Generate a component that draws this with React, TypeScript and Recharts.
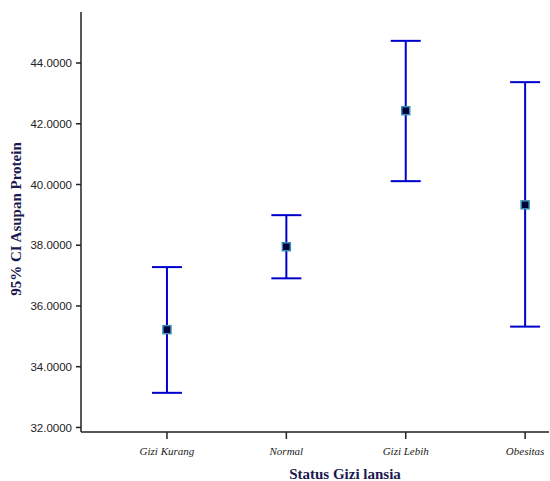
import React from 'react';
import { ComposedChart, Scatter, ErrorBar, XAxis, YAxis, Label } from 'recharts';

// 95% CI of protein intake per nutrition status group

const categories = ['Gizi Kurang', 'Normal', 'Gizi Lebih', 'Obesitas'];
const means = [35.22, 37.95, 42.43, 39.33];
const lowers = [33.14, 36.91, 40.11, 35.32];
const uppers = [37.28, 38.99, 44.73, 43.37];
const yTicks = [32, 34, 36, 38, 40, 42, 44];

const data = categories.map((name, i) => ({
  x: i + 1,
  name,
  mean: means[i],
  err: [means[i] - lowers[i], uppers[i] - means[i]],
}));

const AXIS = '#222';
const TITLE = '#1a1a50';
const SERIF = "'Liberation Serif', 'Times New Roman', serif";

const SquareDot = (props: any) => {
  const { cx, cy } = props;
  if (cx == null || cy == null) return null;
  return (
    <rect
      x={cx - 4}
      y={cy - 4}
      width={8}
      height={8}
      fill="#00003c"
      stroke="#3d8fb5"
      strokeWidth={1.5}
    />
  );
};

const YTitle = (props: any) => {
  const { viewBox } = props;
  const cx = 16;
  const cy = viewBox.y + viewBox.height / 2 - 3;
  return (
    <text
      x={cx}
      y={cy}
      transform={`rotate(-90, ${cx}, ${cy})`}
      textAnchor="middle"
      dominantBaseline="central"
      fontFamily={SERIF}
      fontWeight="bold"
      fontSize={15}
      fill={TITLE}
    >
      95% CI Asupan Protein
    </text>
  );
};

const XTitle = () => (
  <text
    x={345}
    y={474}
    textAnchor="middle"
    dominantBaseline="central"
    fontFamily={SERIF}
    fontWeight="bold"
    fontSize={15}
    fill={TITLE}
  >
    Status Gizi lansia
  </text>
);

const App: React.FC = () => {
  return (
    <div style={{ position: 'absolute', left: 0, top: 0, width: 550, height: 481, background: '#fff' }}>
      <ComposedChart
        width={550}
        height={481}
        data={data}
        margin={{ top: 12, right: 1, bottom: 0, left: 0 }}
      >
        <XAxis
          type="number"
          dataKey="x"
          domain={[0.28, 4.2]}
          ticks={[1, 2, 3, 4]}
          allowDataOverflow
          tickFormatter={(v: number) => categories[v - 1] ?? ''}
          height={49}
          tickSize={7}
          tickMargin={8}
          axisLine={{ stroke: AXIS, strokeWidth: 1.5 }}
          tickLine={{ stroke: AXIS, strokeWidth: 1.5 }}
          tick={{
            fill: '#222',
            fontSize: 11,
            fontStyle: 'italic',
            fontFamily: SERIF,
          }}
        >
          <Label content={<XTitle />} />
        </XAxis>
        <YAxis
          type="number"
          domain={[31.85, 45.68]}
          ticks={yTicks}
          allowDataOverflow
          width={81}
          tickSize={5}
          tickMargin={4}
          tickFormatter={(v: number) => v.toFixed(4)}
          axisLine={{ stroke: AXIS, strokeWidth: 1.5 }}
          tickLine={{ stroke: AXIS, strokeWidth: 1.5 }}
          tick={{
            fill: '#222',
            fontSize: 11.5,
            fontFamily: "'Liberation Sans', Arial, sans-serif",
          }}
        >
          <Label content={<YTitle />} />
        </YAxis>
        <Scatter dataKey="mean" shape={<SquareDot />} isAnimationActive={false}>
          <ErrorBar
            dataKey="err"
            direction="y"
            width={15}
            stroke="#0000cc"
            strokeWidth={2}
            isAnimationActive={false}
          />
        </Scatter>
      </ComposedChart>
    </div>
  );
};

export default App;
